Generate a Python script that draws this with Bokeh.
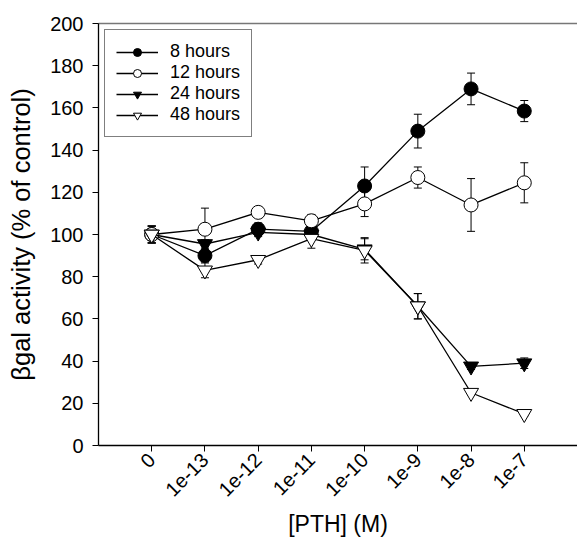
from math import pi
from bokeh.plotting import figure
from bokeh.models import ColumnDataSource, Whisker, TeeHead, FixedTicker, LinearAxis, Legend, LegendItem
from bokeh.embed import file_html
from bokeh.resources import INLINE

tick_labels = ["0", "1e-13", "1e-12", "1e-11", "1e-10", "1e-9", "1e-8", "1e-7"]
xpos = [0, 1, 2, 3, 4, 5, 6, 7]

h8 = [100, 90, 102.5, 101.5, 123, 149, 169, 158.5]
h8_err = [4, 3, 3, 2, 9, 8, 7.5, 5]
h12 = [100, 102.5, 110.5, 106.5, 114.5, 127, 114, 124.5]
h12_err = [4, 10, 2, 3, 6, 5, 12.5, 9.5]
h24 = [100, 95.5, 101, 100, 93, 66, 37.5, 39]
h24_err = [4, 2, 2, 2, 5, 6, 1.5, 2.5]
h48 = [100, 83, 88, 98, 92.5, 66, 25, 15]
h48_err = [4, 3.5, 2, 4.5, 6, 6, 1, 1]

series = [
    ("8 hours", h8, h8_err, "circle", "black"),
    ("12 hours", h12, h12_err, "circle", "white"),
    ("24 hours", h24, h24_err, "inverted_triangle", "black"),
    ("48 hours", h48, h48_err, "inverted_triangle", "white"),
]

FONT = "Liberation Sans"

p = figure(width=577, height=539, output_backend="svg", toolbar_location=None,
           x_range=(-1, 8), y_range=(0, 200),
           min_border_left=98, min_border_right=0, min_border_top=23, min_border_bottom=91)
p.outline_line_color = None
p.xgrid.visible = False
p.ygrid.visible = False

items = []
for name, vals, errs, marker, fill in series:
    upper = [v + e for v, e in zip(vals, errs)]
    lower = [v - e for v, e in zip(vals, errs)]
    src = ColumnDataSource(dict(x=xpos, y=vals, upper=upper, lower=lower))
    w = Whisker(base="x", upper="upper", lower="lower", source=src,
                line_color="black", line_width=1,
                upper_head=TeeHead(size=8, line_color="black", line_width=1),
                lower_head=TeeHead(size=8, line_color="black", line_width=1))
    p.add_layout(w)
    ln = p.line("x", "y", source=src, line_color="black", line_width=1.3)
    sz = 14 if marker == "circle" else 15
    sc = p.scatter("x", "y", source=src, marker=marker, size=sz,
                   fill_color=fill, line_color="black", line_width=1)
    items.append(LegendItem(label=name, renderers=[ln, sc]))

legend = Legend(items=items, location="top_left",
                label_text_font=FONT, label_text_font_size="18px",
                label_text_color="black",
                glyph_width=42, glyph_height=20, label_height=20, label_standoff=12,
                spacing=0, padding=11, margin=6,
                border_line_color="black", border_line_width=1,
                background_fill_alpha=1)
p.add_layout(legend)

p.xaxis.ticker = FixedTicker(ticks=xpos)
p.xaxis.major_label_overrides = {i: t for i, t in zip(xpos, tick_labels)}
p.xaxis.major_label_orientation = pi / 4
p.xaxis.minor_tick_line_color = None
p.xaxis.major_tick_in = 0
p.xaxis.major_tick_out = 6
p.xaxis.axis_label = "[PTH] (M)"

p.yaxis.ticker = FixedTicker(ticks=[0, 20, 40, 60, 80, 100, 120, 140, 160, 180, 200])
p.yaxis.minor_tick_line_color = None
p.yaxis.major_tick_in = 0
p.yaxis.major_tick_out = 6
p.yaxis.major_label_standoff = 9
p.yaxis.axis_label_standoff = 12
p.yaxis.axis_label = "βgal activity (% of control)"

for ax in (p.xaxis[0], p.yaxis[0]):
    ax.axis_line_color = "black"
    ax.axis_line_width = 1.3
    ax.major_tick_line_color = "black"
    ax.major_label_text_font = FONT
    ax.major_label_text_font_size = "20px"
    ax.major_label_text_color = "black"
    ax.axis_label_text_font = FONT
    ax.axis_label_text_font_style = "normal"
    ax.axis_label_text_color = "black"

p.xaxis.axis_label_text_font_size = "23px"
p.yaxis.axis_label_text_font_size = "25.5px"

top = LinearAxis(major_tick_line_color=None, minor_tick_line_color=None,
                 major_label_text_font_size="0px", axis_line_color="#777777",
                 axis_line_width=1.5)
top.major_label_text_color = None
p.add_layout(top, "above")

open("out.html", "w").write(file_html(p, INLINE))
